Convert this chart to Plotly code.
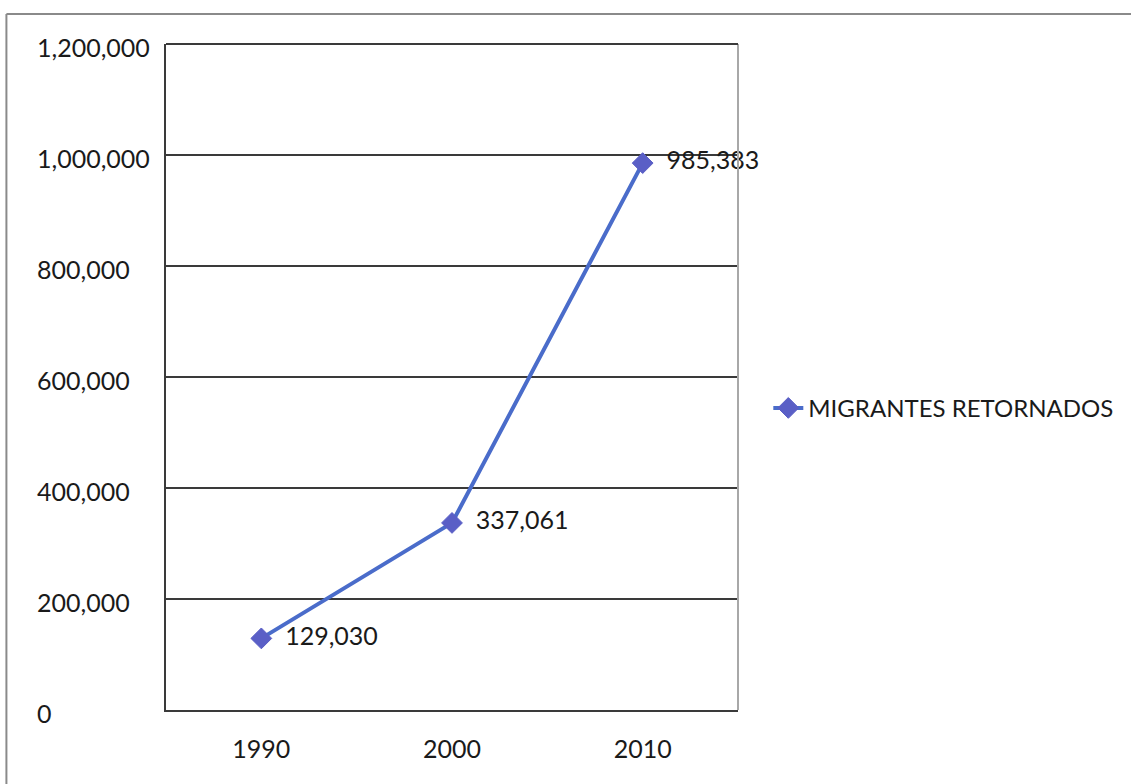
import plotly.graph_objects as go

# Returned migrants by census year
years = ["1990", "2000", "2010"]
migrantes = [129030, 337061, 985383]
series_name = "MIGRANTES RETORNADOS"

y_ticks = [0, 200000, 400000, 600000, 800000, 1000000, 1200000]

FONT = "Lato"
FONT_SIZE = 25
TEXT_COLOR = "#1a1a1a"
LINE_COLOR = "#4a6cca"
MARKER_COLOR = "#5a5fc6"

fig = go.Figure()

fig.add_trace(go.Scatter(
    x=years,
    y=migrantes,
    mode="lines+markers+text",
    name=series_name,
    text=["\u00a0\u00a0" + f"{v:,}" for v in migrantes],
    textposition="middle right",
    textfont=dict(family=FONT, size=FONT_SIZE, color=TEXT_COLOR),
    cliponaxis=False,
    line=dict(color=LINE_COLOR, width=4),
    marker=dict(symbol="diamond", size=16, color=MARKER_COLOR,
                line=dict(color=MARKER_COLOR, width=1)),
    showlegend=True,
))

# left-aligned value axis labels
for t in y_ticks:
    fig.add_annotation(
        x=-0.229, y=t, xref="paper", yref="y",
        text=f"{t:,}", showarrow=False,
        xanchor="left", yanchor="middle", yshift=-3,
        font=dict(family=FONT, size=FONT_SIZE, color=TEXT_COLOR),
    )

# outer chart border (top and left edges)
fig.add_shape(type="line", xref="paper", yref="paper",
              x0=-0.279, x1=1.8, y0=1.045, y1=1.045,
              line=dict(color="#8a8a8a", width=2))
fig.add_shape(type="line", xref="paper", yref="paper",
              x0=-0.279, x1=-0.279, y0=1.045, y1=-0.2,
              line=dict(color="#8a8a8a", width=2))
# right edge of the plot area
fig.add_shape(type="line", xref="paper", yref="paper",
              x0=1, x1=1, y0=0, y1=1,
              line=dict(color="#a8a8a8", width=2))
# top edge of the plot area
fig.add_shape(type="line", xref="paper", yref="paper",
              x0=0, x1=1, y0=1, y1=1,
              line=dict(color="#3a3a3a", width=2))

fig.update_layout(
    width=1131, height=784,
    margin=dict(l=166, r=393, t=44, b=74, autoexpand=False),
    paper_bgcolor="white",
    plot_bgcolor="white",
    font=dict(family=FONT, size=FONT_SIZE, color=TEXT_COLOR),
    legend=dict(
        x=1.053, y=0.453, xanchor="left", yanchor="middle",
        font=dict(family=FONT, size=24, color=TEXT_COLOR),
        bgcolor="rgba(0,0,0,0)",
    ),
    xaxis=dict(
        type="category", range=[-0.5, 2.5],
        showgrid=False, zeroline=False,
        showline=True, linecolor="#3a3a3a", linewidth=2,
        ticks="", ticklabelstandoff=16,
        tickfont=dict(family=FONT, size=FONT_SIZE, color=TEXT_COLOR),
    ),
    yaxis=dict(
        range=[0, 1200000], tickvals=y_ticks,
        showticklabels=False,
        showgrid=True, gridcolor="#3a3a3a", gridwidth=2,
        zeroline=False,
        showline=True, linecolor="#3a3a3a", linewidth=2,
        ticks="",
    ),
)

fig.write_html("out.html")
